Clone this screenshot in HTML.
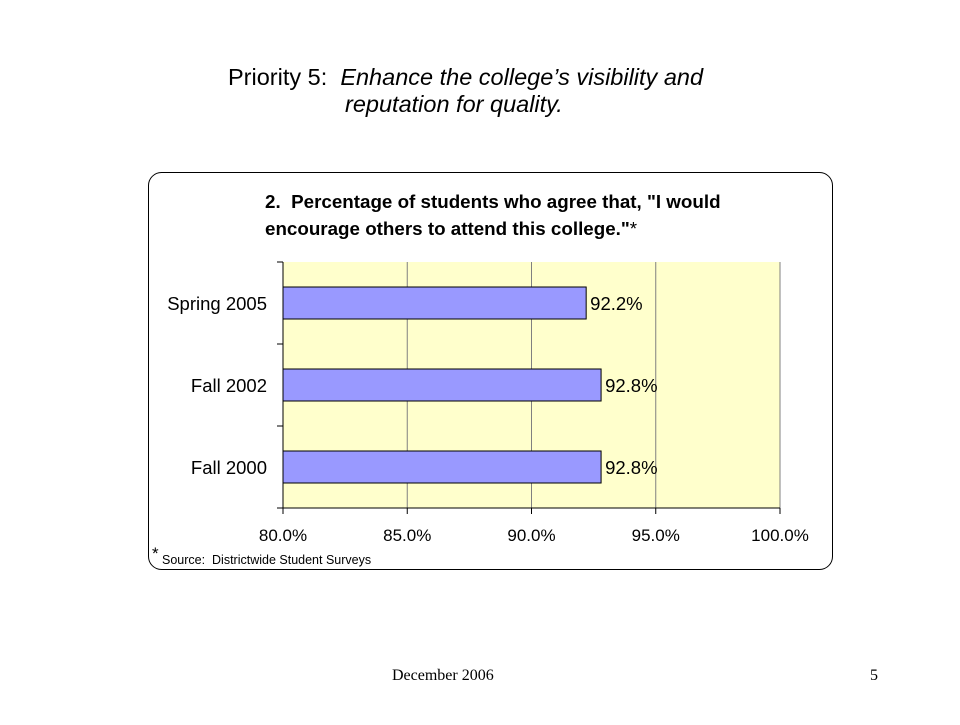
<!DOCTYPE html>
<html><head><meta charset="utf-8"><style>
body{margin:0;background:#fff;width:960px;height:720px;overflow:hidden;font-family:"Liberation Sans",sans-serif}
</style></head><body>
<svg width="960" height="720" xmlns="http://www.w3.org/2000/svg">
<text x="228" y="85" font-size="23.5" fill="#000">Priority 5:&#160; <tspan font-style="italic">Enhance the college’s visibility and</tspan></text>
<text x="345" y="112" font-size="23.5" font-style="italic" fill="#000">reputation for quality.</text>
<rect x="148.5" y="172.5" width="684" height="397" rx="13" fill="#fff" stroke="#000" stroke-width="1"/>
<text x="265" y="208" font-size="18.8" font-weight="bold">2.&#160; Percentage of students who agree that, "I would</text>
<text x="265" y="235" font-size="18.8" font-weight="bold">encourage others to attend this college."<tspan font-weight="normal">*</tspan></text>
<g id="chart"></g>
<text x="152" y="559" font-size="17">*</text>
<text x="162" y="564" font-size="12.5">Source:&#160; Districtwide Student Surveys</text>
<text x="392" y="680" font-size="16" font-family="Liberation Serif,serif">December 2006</text>
<text x="870" y="680" font-size="16" font-family="Liberation Serif,serif">5</text>
</svg>
<script>
const categories=["Spring 2005","Fall 2002","Fall 2000"];
const values=[92.2,92.8,92.8];
const valueLabels=["92.2%","92.8%","92.8%"];
const ticks=[80,85,90,95,100];
const tickLabels=["80.0%","85.0%","90.0%","95.0%","100.0%"];
const NS="http://www.w3.org/2000/svg";
const g=document.getElementById('chart');
const L=283,R=780,T=262,B=508,xmin=80,xmax=100;
const x=v=>L+(v-xmin)/(xmax-xmin)*(R-L);
const band=(B-T)/categories.length;
function mk(t,a){const e=document.createElementNS(NS,t);for(const k in a)e.setAttribute(k,a[k]);g.appendChild(e);return e;}
let bg=mk('rect',{x:L,y:T,width:R-L,height:B-T,fill:'#ffffcc'});


ticks.forEach((t,i)=>{
 if(i>0){let gl=mk('line',{x1:x(t),x2:x(t),y1:T,y2:B,stroke:'#808080','stroke-width':1});
 
 }
 let tk=mk('line',{x1:x(t),x2:x(t),y1:B,y2:B+6,stroke:'#000'});
 
 
 let tl=mk('text',{x:x(t),y:B+33,'font-size':17,'text-anchor':'middle'});
 tl.textContent=tickLabels[i];
 
 
});
let ax=mk('line',{x1:L,x2:L,y1:T,y2:B,stroke:'#000'});


let xa=mk('line',{x1:L,x2:R,y1:B,y2:B,stroke:'#000'});


for(let i=0;i<=categories.length;i++){let t=mk('line',{x1:L-6,x2:L,y1:T+i*band,y2:T+i*band,stroke:'#000'});
 
 }
categories.forEach((c,i)=>{
 const cy=T+band*(i+0.5);
 let b=mk('rect',{x:L,y:cy-16,width:x(values[i])-L,height:32,fill:'#9999ff',stroke:'#000','stroke-width':1});
 
 
 let vl=mk('text',{x:x(values[i])+4,y:cy+7,'font-size':18.5});
 vl.textContent=valueLabels[i];
 
 
 let cl=mk('text',{x:L-16,y:cy+7,'font-size':18.5,'text-anchor':'end'});
 cl.textContent=c;
 
 
});
</script>
</body></html>
